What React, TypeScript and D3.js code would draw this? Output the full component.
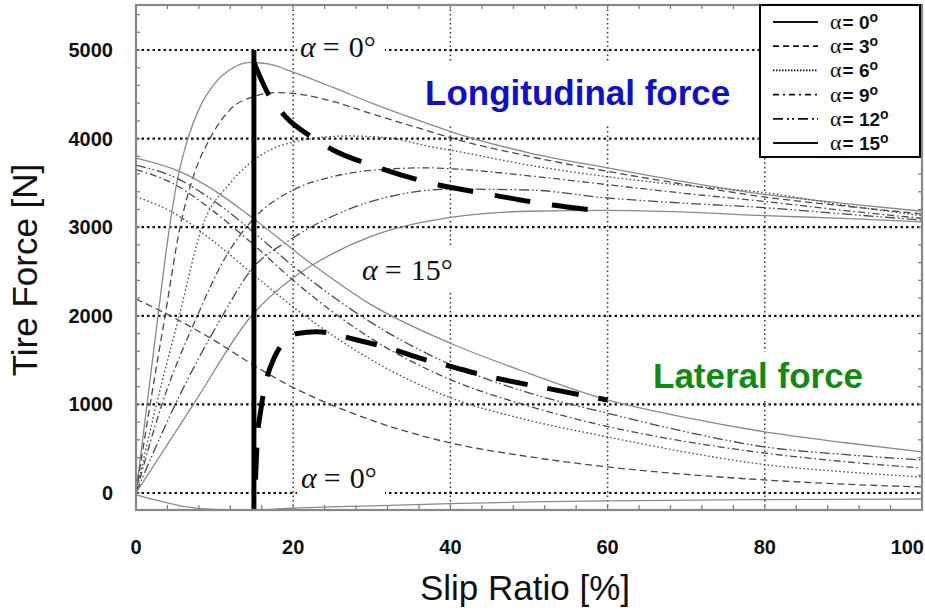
import * as d3 from "d3";
import React from "react";

// slip angles (legend)
const alphas = [0, 3, 6, 9, 12, 15];
const xTicks = [0, 20, 40, 60, 80, 100];
const yTicks = [0, 1000, 2000, 3000, 4000, 5000];

// longitudinal force, [slip %, N]
const longA0 = [[0, 0], [1.4, 1000], [2.8, 2000], [4.1, 2900], [5.3, 3550], [6.6, 4000], [8, 4330], [10, 4620], [12, 4780], [14.5, 4860], [17, 4840], [20, 4750], [25, 4580], [30, 4400], [37.4, 4160], [40, 4080], [50, 3840], [60, 3670], [70, 3510], [80, 3370], [90, 3270], [100, 3180]];
const longA3 = [[0, 0], [1.8, 1000], [3.7, 2000], [5.6, 3000], [7.4, 3600], [9.4, 4000], [12, 4330], [15, 4475], [18, 4520], [20, 4510], [25, 4420], [30, 4280], [37.4, 4080], [40, 4010], [50, 3800], [60, 3630], [70, 3480], [80, 3340], [90, 3240], [100, 3150]];
const longA6 = [[0, 0], [2.6, 1000], [5.5, 2000], [8.4, 3000], [12, 3500], [16.2, 3830], [20, 3960], [27, 4030], [32, 4010], [37.4, 3910], [40, 3870], [50, 3700], [60, 3570], [70, 3470], [80, 3390], [90, 3250], [100, 3130]];
const longA9 = [[0, 0], [3.3, 1000], [7.8, 2000], [11, 2600], [15, 3100], [20, 3420], [25, 3570], [31, 3650], [37, 3670], [40, 3660], [50, 3580], [60, 3480], [70, 3380], [80, 3290], [90, 3190], [100, 3100]];
const longA12 = [[0, 0], [5, 1000], [11, 2000], [14.5, 2500], [20, 2880], [27, 3200], [33, 3360], [40, 3430], [50, 3420], [60, 3330], [70, 3270], [80, 3220], [90, 3150], [100, 3080]];
const longA15 = [[0, 0], [7.3, 1000], [14.7, 2000], [20, 2430], [22.5, 2576], [30, 2900], [40, 3110], [50, 3180], [60, 3190], [70, 3170], [80, 3130], [90, 3100], [100, 3060]];

// lateral force, [slip %, N]
const latA0 = [[0, -20], [3, -90], [6, -150], [10, -185], [15, -192], [20, -172], [30, -145], [40, -120], [50, -100], [60, -88], [80, -75], [100, -68]];
const latA3 = [[0, 2190], [5, 1970], [10, 1720], [15, 1440], [20, 1190], [25, 990], [30, 820], [40, 565], [50, 410], [60, 294], [70, 210], [80, 147], [90, 100], [100, 68]];
const latA6 = [[0, 3345], [5, 3150], [10, 2830], [15, 2460], [20, 2100], [30, 1500], [40, 1075], [50, 820], [60, 633], [70, 460], [80, 320], [90, 240], [100, 180]];
const latA9 = [[0, 3650], [5, 3480], [10, 3170], [15, 2800], [20, 2400], [30, 1740], [40, 1280], [50, 980], [60, 750], [70, 580], [80, 450], [90, 355], [100, 282]];
const latA12 = [[0, 3700], [5, 3560], [10, 3290], [15, 2940], [20, 2560], [30, 1920], [40, 1450], [50, 1130], [60, 900], [70, 690], [80, 520], [90, 435], [100, 373]];
const latA15 = [[0, 3780], [5.6, 3627], [9.8, 3424], [14.8, 3107], [22.5, 2576], [30, 2120], [40, 1690], [50, 1350], [60, 1050], [70, 850], [80, 690], [90, 570], [100, 463]];

// thick dashed loci and the vertical marker
const longLocus = [[15, 4860], [17, 4475], [19, 4250], [22.5, 4010], [25, 3875], [30, 3700], [37.4, 3500], [45, 3370], [53, 3250], [60, 3175]];
const latLocus = [[15.2, 150], [15.4, 550], [15.9, 950], [16.6, 1280], [17.6, 1530], [19, 1720], [20.5, 1800], [23, 1820], [28, 1730], [32, 1640], [36, 1525], [40, 1430], [44, 1333], [52, 1186], [60, 1050]];
const markerSlip = 15;
const markerTop = 5000;

const longSeries = [longA0, longA3, longA6, longA9, longA12, longA15];
const latSeries = [latA0, latA3, latA6, latA9, latA12, latA15];

const dashes = ["", "7,4", "1.6,2.4", "7,3,1.6,3", "10,3,1.6,2.4,1.6,3", ""];
const colors = ["#8a8a8a", "#4a4a4a", "#4a4a4a", "#4a4a4a", "#4a4a4a", "#8a8a8a"];
const legendDashes = ["", "6,4", "1.5,1.5", "6,4,2,4", "10,4,2,3,2,4", ""];

const W = 925;
const H = 611;
const SANS = "'Liberation Sans', Arial, sans-serif";
const SERIF = "'Liberation Serif', 'Times New Roman', serif";

export default function App() {
  const x = d3.scaleLinear().domain([0, 100]).range([136, 922]);
  const y = d3.scaleLinear().domain([-192, 5508]).range([510, 5]);
  const [x0, x1] = x.range();
  const [yb, yt] = y.range();

  const line = d3
    .line<number[]>()
    .x((d) => x(d[0]))
    .y((d) => y(d[1]))
    .curve(d3.curveMonotoneX);

  const minorX = d3.range(4, 100, 4);
  const minorY = d3.range(0, 5500, 200);

  const legX = 760;
  const legY = 5;

  const alphaLabel = (lx: number, ly: number, deg: string) => (
    <text x={lx} y={ly} fontFamily={SERIF} fontSize={30} fill="#111">
      <tspan fontStyle="italic">α</tspan>
      <tspan dx={7}>=</tspan>
      <tspan dx={9}>{deg}°</tspan>
    </text>
  );

  return (
    <div style={{ position: "absolute", left: 0, top: 0 }}>
      <svg width={W} height={H} viewBox={`0 0 ${W} ${H}`} style={{ display: "block", background: "#fff" }}>
        <defs>
          <clipPath id="plot">
            <rect x={x0} y={yt} width={x1 - x0} height={yb - yt} />
          </clipPath>
        </defs>

        {/* grid */}
        {xTicks.slice(1, -1).map((t) => (
          <line key={"gx" + t} x1={x(t)} x2={x(t)} y1={yt} y2={yb} stroke="#333" strokeWidth={1.5} strokeDasharray="1.5,3" />
        ))}
        {yTicks.map((t) => (
          <line key={"gy" + t} x1={x0} x2={x1} y1={y(t)} y2={y(t)} stroke="#111" strokeWidth={2.2} strokeDasharray="2.5,3" />
        ))}

        {/* white boxes behind annotations */}
        <rect x={297} y={32} width={88} height={30} fill="#fff" />
        <rect x={297} y={464} width={88} height={31} fill="#fff" />
        <rect x={356} y={248} width={104} height={42} fill="#fff" />
        <rect x={420} y={62} width={318} height={62} fill="#fff" />
        <rect x={648} y={352} width={220} height={48} fill="#fff" />

        {/* minor ticks */}
        {minorX.map((t) => (
          <g key={"tx" + t} stroke="#777" strokeWidth={1.2}>
            <line x1={x(t)} x2={x(t)} y1={yb} y2={yb - 5} />
            <line x1={x(t)} x2={x(t)} y1={yt} y2={yt + 4} />
          </g>
        ))}
        {minorY.map((t) => (
          <g key={"ty" + t} stroke="#777" strokeWidth={1.2}>
            <line x1={x0} x2={x0 + 4} y1={y(t)} y2={y(t)} />
            <line x1={x1} x2={x1 - 4} y1={y(t)} y2={y(t)} />
          </g>
        ))}

        {/* curves */}
        <g clipPath="url(#plot)" fill="none">
          {longSeries.map((s, i) => (
            <path key={"l" + i} d={line(s) || ""} stroke={colors[i]} strokeWidth={1.3} strokeDasharray={dashes[i] || undefined} />
          ))}
          {latSeries.map((s, i) => (
            <path key={"t" + i} d={line(s) || ""} stroke={colors[i]} strokeWidth={1.3} strokeDasharray={dashes[i] || undefined} />
          ))}
          <line x1={x(markerSlip)} x2={x(markerSlip)} y1={y(markerTop)} y2={yb} stroke="#000" strokeWidth={5} />
          <path d={line(longLocus) || ""} stroke="#000" strokeWidth={5} strokeDasharray="36,22" />
          <path d={line(latLocus) || ""} stroke="#000" strokeWidth={5} strokeDasharray="32,20" />
        </g>

        {/* frame */}
        <rect x={x0} y={yt} width={x1 - x0} height={yb - yt} fill="none" stroke="#888" strokeWidth={2.2} />

        {/* annotations */}
        {alphaLabel(300, 57, "0")}
        {alphaLabel(301, 488, "0")}
        {alphaLabel(362, 280, "15")}
        <text x={425} y={105} fontFamily={SANS} fontWeight="bold" fontSize={35} fill="#1010cc">
          Longitudinal force
        </text>
        <text x={653} y={388} fontFamily={SANS} fontWeight="bold" fontSize={35} fill="#108a10">
          Lateral force
        </text>

        {/* tick labels */}
        {yTicks.map((t) => (
          <text key={"ly" + t} x={113} y={y(t) + 7} textAnchor="end" fontFamily={SANS} fontWeight="bold" fontSize={20} fill="#111">
            {t}
          </text>
        ))}
        {xTicks.map((t, i) => (
          <text
            key={"lx" + t}
            x={i === xTicks.length - 1 ? x(t) + 2 : x(t)}
            y={554}
            textAnchor={i === xTicks.length - 1 ? "end" : "middle"}
            fontFamily={SANS}
            fontWeight="bold"
            fontSize={20}
            fill="#111"
          >
            {t}
          </text>
        ))}

        {/* axis titles */}
        <text transform="translate(37,270) rotate(-90)" textAnchor="middle" fontFamily={SANS} fontSize={35} fill="#111">
          Tire Force [N]
        </text>
        <text x={525} y={600} textAnchor="middle" fontFamily={SANS} fontSize={35} fill="#111">
          Slip Ratio [%]
        </text>

        {/* legend */}
        <rect x={legX} y={legY} width={160} height={152} fill="#fff" stroke="#000" strokeWidth={2} />
        {alphas.map((a, i) => {
          const ly = legY + 17 + i * 24.2;
          return (
            <g key={"lg" + a}>
              <line x1={773} x2={818} y1={ly} y2={ly} stroke="#111" strokeWidth={1.8} strokeDasharray={legendDashes[i] || undefined} />
              <text x={830} y={ly + 7} fontSize={19} fill="#111">
                <tspan fontFamily={SERIF} fontSize={22}>α</tspan>
                <tspan fontFamily={SANS} fontWeight="bold" dx={1}>= {a}</tspan>
                <tspan fontFamily={SANS} fontWeight="bold" fontSize={14} dy={-7}>o</tspan>
              </text>
            </g>
          );
        })}
      </svg>
    </div>
  );
}
